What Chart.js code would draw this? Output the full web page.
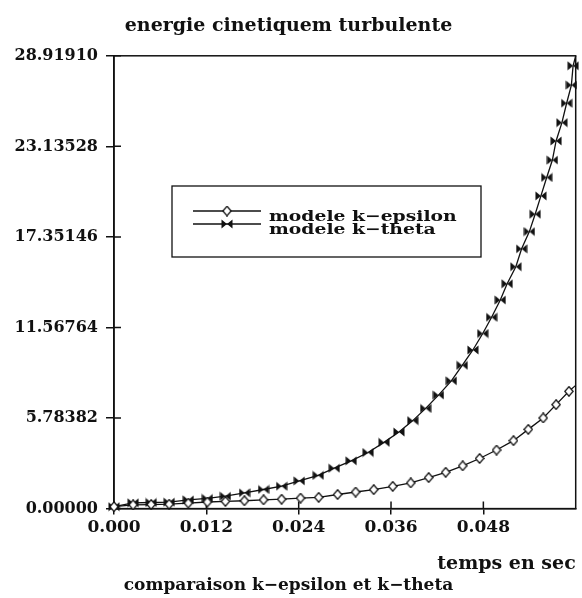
<!DOCTYPE html>
<html>
<head>
<meta charset="UTF-8">
<title>energie cinetiquem turbulente</title>
<script src="https://cdn.jsdelivr.net/npm/chart.js"></script>
<style>
  body { margin: 0; background: #fff; }
</style>
</head>
<body>
<canvas id="chart" width="582" height="598"></canvas>
<script>
// valeurs (temps en s, energie)
const tempsEpsilon = [0, 0.00248, 0.00483, 0.00717, 0.00965, 0.01213, 0.01448, 0.01695, 0.01943, 0.02178,
  0.02424, 0.0266, 0.02906, 0.0314, 0.03375, 0.03622, 0.03856, 0.04089, 0.0431, 0.04531,
  0.04751, 0.04971, 0.05191, 0.05384, 0.05578, 0.05745, 0.05912, 0.06];
const energieEpsilon = [0.12, 0.24, 0.26, 0.28, 0.35, 0.42, 0.46, 0.5, 0.56, 0.6,
  0.67, 0.72, 0.9, 1.06, 1.21, 1.42, 1.64, 1.98, 2.32, 2.73,
  3.2, 3.74, 4.34, 5.06, 5.79, 6.64, 7.49, 7.87];
const tempsTheta = [0, 0.00248, 0.00483, 0.00717, 0.00965, 0.01213, 0.01448, 0.01696, 0.01943, 0.02178,
  0.02408, 0.02654, 0.02862, 0.03082, 0.03302, 0.03509, 0.03703, 0.03883, 0.0405, 0.04217,
  0.04384, 0.04525, 0.04664, 0.04792, 0.04907, 0.0502, 0.05109, 0.05222, 0.05297, 0.05398,
  0.05473, 0.05548, 0.05623, 0.05697, 0.05745, 0.05821, 0.05882, 0.05944, 0.05966, 0.06];
const energieTheta = [0.12, 0.37, 0.39, 0.41, 0.56, 0.65, 0.79, 1.01, 1.22, 1.43,
  1.77, 2.12, 2.58, 3.05, 3.58, 4.23, 4.89, 5.62, 6.4, 7.25,
  8.16, 9.15, 10.13, 11.18, 12.22, 13.32, 14.36, 15.45, 16.59, 17.69,
  18.8, 19.97, 21.15, 22.26, 23.48, 24.65, 25.89, 27.05, 28.28, 28.9191];
const xTicks = [0, 0.012, 0.024, 0.036, 0.048];
const yTicks = [0, 5.78382, 11.56764, 17.35146, 23.13528, 28.91910];
const legende = ['modele k\u2212epsilon', 'modele k\u2212theta'];

const police = '"DejaVu Serif", "Liberation Serif", serif';
const encre = '#111';

// marqueurs : losange creux et noeud papillon plein
function losange() {
  const c = document.createElement('canvas');
  c.width = 10; c.height = 11;
  const g = c.getContext('2d');
  g.beginPath();
  g.moveTo(5, 0.8); g.lineTo(9.2, 5.5); g.lineTo(5, 10.2); g.lineTo(0.8, 5.5);
  g.closePath();
  g.fillStyle = '#fff'; g.fill();
  g.lineWidth = 1.3; g.strokeStyle = encre; g.stroke();
  return c;
}
function papillon() {
  const c = document.createElement('canvas');
  c.width = 12; c.height = 10;
  const g = c.getContext('2d');
  g.fillStyle = encre;
  g.beginPath();
  g.moveTo(0.5, 0.5); g.lineTo(6, 5); g.lineTo(0.5, 9.5); g.closePath();
  g.moveTo(11.5, 0.5); g.lineTo(6, 5); g.lineTo(11.5, 9.5); g.closePath();
  g.fill();
  return c;
}
const mLosange = losange();
const mPapillon = papillon();

function points(xs, ys) {
  return xs.map((x, i) => ({ x: x, y: ys[i] }));
}
function rayon(ctx) {
  // pas de marqueur sur le dernier point (fin de courbe)
  return ctx.dataIndex === ctx.dataset.data.length - 1 ? 0 : 5;
}

// cadre, petits traits interieurs et legende
const cadre = {
  id: 'cadre',
  beforeDatasetsDraw(chart) {
    const { ctx, chartArea: a, scales: { x, y } } = chart;
    ctx.save();
    ctx.strokeStyle = encre;
    ctx.lineWidth = 1.5;
    ctx.strokeRect(a.left, a.top, a.right - a.left, a.bottom - a.top);
    ctx.beginPath();
    xTicks.forEach(v => {
      const px = x.getPixelForValue(v);
      ctx.moveTo(px, a.bottom); ctx.lineTo(px, a.bottom - 7);
    });
    yTicks.forEach(v => {
      const py = y.getPixelForValue(v);
      ctx.moveTo(a.left, py); ctx.lineTo(a.left + 7, py);
    });
    ctx.stroke();
    ctx.restore();
  },
  afterDatasetsDraw(chart) {
    const ctx = chart.ctx;
    ctx.save();
    ctx.fillStyle = '#fff';
    ctx.fillRect(172, 186, 309, 71);
    ctx.strokeStyle = encre;
    ctx.lineWidth = 1.3;
    ctx.strokeRect(172, 186, 309, 71);
    const marques = [mLosange, mPapillon];
    [211, 224].forEach((ly, i) => {
      ctx.beginPath();
      ctx.moveTo(193, ly); ctx.lineTo(261, ly);
      ctx.stroke();
      const m = marques[i];
      ctx.drawImage(m, 227 - m.width / 2, ly - m.height / 2);
      // texte elargi comme sur le trace d'origine
      ctx.save();
      ctx.translate(269, ly + 6);
      ctx.scale(1.25, 1);
      ctx.fillStyle = encre;
      ctx.font = 'bold 15px ' + police;
      ctx.textBaseline = 'middle';
      ctx.fillText(legende[i], 0, 0);
      ctx.restore();
    });
    ctx.restore();
  }
};

new Chart(document.getElementById('chart'), {
  type: 'line',
  data: {
    datasets: [
      {
        label: legende[0],
        data: points(tempsEpsilon, energieEpsilon),
        borderColor: encre,
        borderWidth: 1.3,
        pointStyle: mLosange,
        pointRadius: rayon,
        tension: 0,
        clip: false
      },
      {
        label: legende[1],
        data: points(tempsTheta, energieTheta),
        borderColor: encre,
        borderWidth: 1.3,
        pointStyle: mPapillon,
        pointRadius: rayon,
        tension: 0,
        clip: false
      }
    ]
  },
  options: {
    responsive: false,
    animation: false,
    devicePixelRatio: 1,
    layout: { padding: { left: 0, right: 5, top: 0, bottom: 0 } },
    plugins: {
      legend: { display: false },
      tooltip: { enabled: false },
      title: {
        display: true,
        text: 'energie cinetiquem turbulente',
        color: encre,
        font: { family: police, size: 19, weight: 'bold' },
        padding: { top: 15, bottom: 18 }
      },
      subtitle: {
        display: true,
        position: 'bottom',
        text: 'comparaison k\u2212epsilon et k\u2212theta',
        color: encre,
        font: { family: police, size: 17, weight: 'bold' },
        padding: { top: 0, bottom: 2 }
      }
    },
    scales: {
      x: {
        type: 'linear',
        min: 0,
        max: 0.06,
        afterBuildTicks: s => { s.ticks = xTicks.map(v => ({ value: v })); },
        afterFit: s => { s.height = 67; },
        ticks: {
          color: encre,
          padding: 3,
          maxRotation: 0,
          font: { family: police, size: 17, weight: 'bold' },
          callback: v => v.toFixed(3)
        },
        grid: { drawOnChartArea: false, tickLength: 6, color: encre, lineWidth: 1.5 },
        border: { color: encre, width: 1.5 },
        title: {
          display: true,
          text: 'temps en sec',
          align: 'end',
          color: encre,
          font: { family: police, size: 19, weight: 'bold' },
          padding: { top: 0, bottom: 0 }
        }
      },
      y: {
        min: 0,
        max: 28.9191,
        afterBuildTicks: s => { s.ticks = yTicks.map(v => ({ value: v })); },
        afterFit: s => { s.width = 114; },
        ticks: {
          color: encre,
          padding: 8,
          font: { family: police, size: 16, weight: 'bold' },
          callback: v => v.toFixed(5)
        },
        grid: { drawOnChartArea: false, tickLength: 8, color: encre, lineWidth: 1.5 },
        border: { color: encre, width: 1.5 }
      }
    }
  },
  plugins: [cadre]
});
</script>
</body>
</html>
